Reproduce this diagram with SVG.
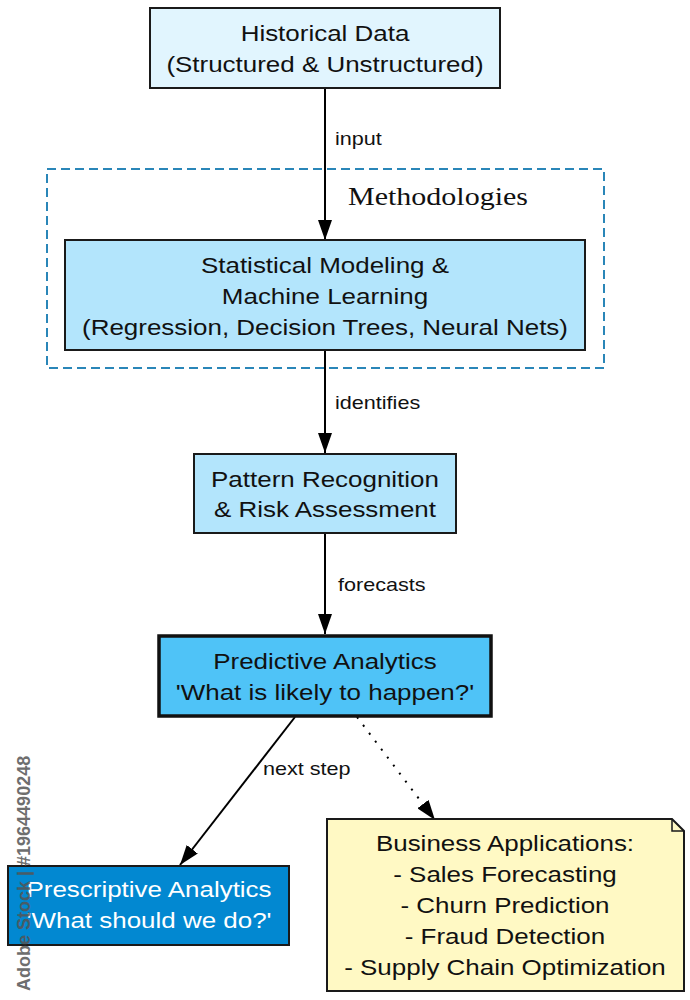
<svg xmlns="http://www.w3.org/2000/svg" width="690" height="1000" viewBox="0 0 690 1000">
<defs>
<marker id="arr" viewBox="0 0 20 14" refX="20" refY="7" markerWidth="20" markerHeight="14" markerUnits="userSpaceOnUse" orient="auto">
<path d="M0,0 L20,7 L0,14 Z" fill="#000"/>
</marker>
</defs>
<style>
.box{stroke:#1a1a1a;stroke-width:2}
.t{font-family:"Liberation Sans",Arial,sans-serif;font-size:22px;fill:#111;text-anchor:middle}
.w{fill:#fff}
.lbl{font-family:"Liberation Sans",Arial,sans-serif;font-size:18px;fill:#111}
.edge{stroke:#000;stroke-width:2;fill:none}
</style>
<rect width="690" height="1000" fill="#fff"/>
<g id="cluster">
<rect x="47" y="169" width="557" height="199" fill="none" stroke="#2a86b8" stroke-width="2" stroke-dasharray="9,5"/>
<text transform="matrix(1.2,0,0,1,-69.6,0)" x="348" y="205" font-family="Liberation Serif,'Times New Roman',serif" font-size="25" fill="#111">Methodologies</text>
</g>
<g id="connectors">
<line class="edge" x1="325" y1="89" x2="325" y2="240" marker-end="url(#arr)"/>
<text class="lbl" transform="matrix(1.2,0,0,1,-67,0)" x="335" y="145">input</text>
<line class="edge" x1="325" y1="351" x2="325" y2="453" marker-end="url(#arr)"/>
<text class="lbl" transform="matrix(1.2,0,0,1,-67,0)" x="335" y="409">identifies</text>
<line class="edge" x1="325" y1="534" x2="325" y2="634" marker-end="url(#arr)"/>
<text class="lbl" transform="matrix(1.2,0,0,1,-67.6,0)" x="338" y="591">forecasts</text>
<line class="edge" x1="295" y1="717" x2="180" y2="865" marker-end="url(#arr)"/>
<text class="lbl" transform="matrix(1.2,0,0,1,-52.6,0)" x="263" y="775">next step</text>
<line class="edge" x1="357" y1="717" x2="435" y2="820" stroke-dasharray="2,8" marker-end="url(#arr)"/>
</g>
<g id="historical">
<rect class="box" x="150" y="8" width="350" height="80" fill="#e1f5fe"/>
<g transform="matrix(1.18,0,0,1,-58.5,0)">
<text class="t" x="325" y="41">Historical Data</text>
<text class="t" x="325" y="72">(Structured &amp; Unstructured)</text>
</g>
</g>
<g id="statistical">
<rect class="box" x="65" y="240" width="520" height="110" fill="#b3e5fc"/>
<g transform="matrix(1.18,0,0,1,-58.5,0)">
<text class="t" x="325" y="273">Statistical Modeling &amp;</text>
<text class="t" x="325" y="304">Machine Learning</text>
<text class="t" x="325" y="335">(Regression, Decision Trees, Neural Nets)</text>
</g>
</g>
<g id="pattern">
<rect class="box" x="194" y="454" width="262" height="79" fill="#b3e5fc"/>
<g transform="matrix(1.18,0,0,1,-58.5,0)">
<text class="t" x="325" y="487">Pattern Recognition</text>
<text class="t" x="325" y="517">&amp; Risk Assessment</text>
</g>
</g>
<g id="predictive">
<rect x="159" y="636" width="332" height="80" fill="#4fc3f7" stroke="#111" stroke-width="3.5"/>
<g transform="matrix(1.18,0,0,1,-58.5,0)">
<text class="t" x="325" y="669">Predictive Analytics</text>
<text class="t" x="325" y="700">'What is likely to happen?'</text>
</g>
</g>
<g id="prescriptive">
<rect class="box" x="8" y="866" width="281" height="79" fill="#0288d1"/>
<g transform="matrix(1.18,0,0,1,-26.8,0)">
<text class="t w" x="149" y="897">Prescriptive Analytics</text>
<text class="t w" x="149" y="928">'What should we do?'</text>
</g>
</g>
<g id="applications">
<path d="M327,819 L672,819 L684,831 L684,991 L327,991 Z" fill="#fff9c4" stroke="#1a1a1a" stroke-width="2"/>
<path d="M672,819 L672,831 L684,831" fill="none" stroke="#1a1a1a" stroke-width="1.5"/>
<g transform="matrix(1.18,0,0,1,-90.9,0)">
<text class="t" x="505" y="851">Business Applications:</text>
<text class="t" x="505" y="882">- Sales Forecasting</text>
<text class="t" x="505" y="913">- Churn Prediction</text>
<text class="t" x="505" y="944">- Fraud Detection</text>
<text class="t" x="505" y="975">- Supply Chain Optimization</text>
</g>
</g>
<text transform="translate(30,991) rotate(-90)" font-family="Liberation Sans,Arial,sans-serif" font-size="18" font-weight="bold" fill="#555" opacity="0.85">Adobe Stock | #1964490248</text>
</svg>
